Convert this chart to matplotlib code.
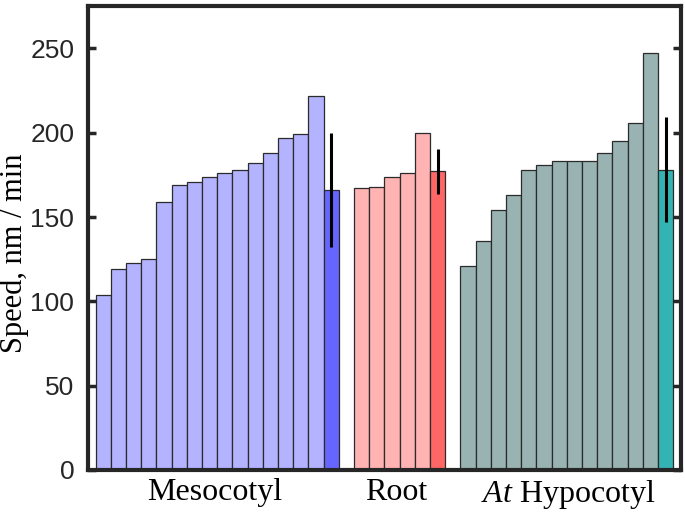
import numpy as np
import matplotlib
matplotlib.use("Agg")
import matplotlib.pyplot as plt

plt.rcParams['mathtext.fontset'] = 'custom'
plt.rcParams['mathtext.rm'] = 'Liberation Serif'
plt.rcParams['mathtext.it'] = 'Liberation Serif:italic'

# Datos (nm / min)
mesocotyl = [104, 119, 123, 125, 159, 169, 171, 174, 176, 178, 182, 188, 197, 199, 222]
meso_mean, meso_err = 166, 34
root = [167, 168, 174, 176, 200]
root_mean, root_err = 177, 13.5
hypocotyl = [121, 136, 154, 163, 178, 181, 183, 183, 183, 188, 195, 206, 247]
hypo_mean, hypo_err = 178, 31

group_labels = ['Mesocotyl', 'Root', r'$\mathit{At}$ Hypocotyl']
light_colors = ['#b3b3ff', '#ffb3b3', '#99b3b3']
dark_colors = ['#6666ff', '#ff6666', '#33b3b3']

groups = [(mesocotyl, meso_mean, meso_err),
          (root, root_mean, root_err),
          (hypocotyl, hypo_mean, hypo_err)]

fig = plt.figure(figsize=(6.85, 5.15), dpi=100)
ax = fig.add_axes([0.1285, 0.0874, 0.8655, 0.9006])

pos = 1
for (vals, m, e), lc, dc in zip(groups, light_colors, dark_colors):
    x = np.arange(pos, pos + len(vals))
    ax.bar(x, vals, width=1.0, color=lc, edgecolor='#2b2b2b', linewidth=0.9)
    xm = pos + len(vals)
    ax.bar(xm, m, width=1.0, color=dc, edgecolor='#2b2b2b', linewidth=0.9)
    ax.errorbar(xm, m, yerr=e, fmt='none', ecolor='black', elinewidth=2.2, capsize=0)
    pos = xm + 2

ax.set_xlim(0, pos - 1)
ax.set_ylim(0, 275)
ax.set_yticks([0, 50, 100, 150, 200, 250])
ax.set_xticks([8.35, 20.3, 31.6])
ax.set_xticklabels(group_labels, family='Liberation Serif', fontsize=23)
ax.tick_params(axis='x', length=0, pad=6)
ax.tick_params(axis='y', direction='in', length=6, width=2.5, right=True,
               labelsize=19, colors='#262626', pad=10)
for lab in ax.get_yticklabels():
    lab.set_family('Liberation Sans')
ax.set_ylabel('Speed, nm / min', family='Liberation Serif', fontsize=22)
ax.yaxis.set_label_coords(-0.099, 0.468)

for s in ax.spines.values():
    s.set_linewidth(3)
    s.set_color('#262626')

fig.savefig('out.png', dpi=100)
